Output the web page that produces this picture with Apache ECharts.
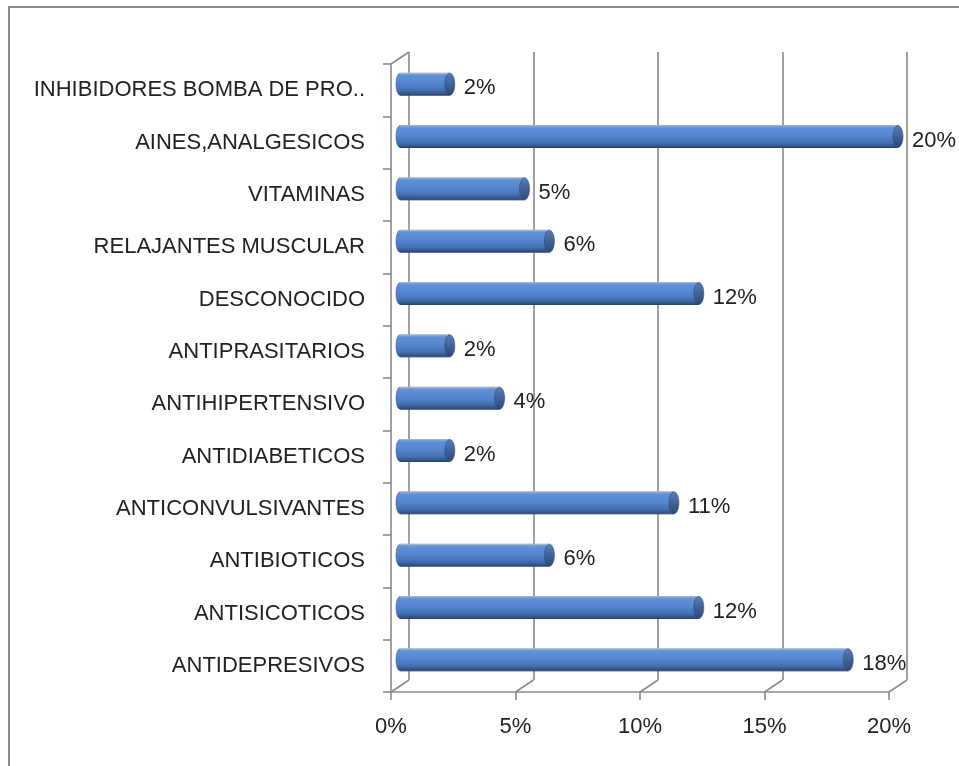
<!DOCTYPE html>
<html>
<head>
<meta charset="utf-8">
<script src="https://cdn.jsdelivr.net/npm/echarts@6/dist/echarts.min.js"></script>
<style>
  html, body { margin: 0; padding: 0; background: #fff; }
  #chart { width: 959px; height: 766px; }
</style>
</head>
<body>
<div id="chart"></div>
<script>
// categorias de arriba hacia abajo
const categories = [
  'INHIBIDORES BOMBA DE PRO..',
  'AINES,ANALGESICOS',
  'VITAMINAS',
  'RELAJANTES MUSCULAR',
  'DESCONOCIDO',
  'ANTIPRASITARIOS',
  'ANTIHIPERTENSIVO',
  'ANTIDIABETICOS',
  'ANTICONVULSIVANTES',
  'ANTIBIOTICOS',
  'ANTISICOTICOS',
  'ANTIDEPRESIVOS'
];
const values = [2, 20, 5, 6, 12, 2, 4, 2, 11, 6, 12, 18];
const valueLabels = ['2%', '20%', '5%', '6%', '12%', '2%', '4%', '2%', '11%', '6%', '12%', '18%'];
const xTicks = [0, 5, 10, 15, 20];

const font = '"Liberation Sans", Arial, sans-serif';
const gray = '#8a8a8a';
// desplazamiento de profundidad (efecto 3D)
const DX = 18, DY = 12;

const chart = echarts.init(document.getElementById('chart'));

const bodyGrad = new echarts.graphic.LinearGradient(0, 0, 0, 1, [
  { offset: 0, color: '#8fa9d0' },
  { offset: 0.12, color: '#5e90d6' },
  { offset: 0.45, color: '#5587d0' },
  { offset: 0.78, color: '#4370b2' },
  { offset: 1, color: '#2a4a78' }
]);
const capGrad = new echarts.graphic.LinearGradient(0, 0, 0, 1, [
  { offset: 0, color: '#5a7fb5' },
  { offset: 0.5, color: '#3f6399' },
  { offset: 1, color: '#2b4873' }
]);

function renderBar(params, api) {
  const v = api.value(0);
  const idx = api.value(1);
  const p0 = api.coord([0, idx]);
  const p1 = api.coord([v, idx]);
  const h = 22;
  const y = p0[1] - h / 2;
  return {
    type: 'group',
    children: [
      { type: 'ellipse', shape: { cx: p0[0], cy: p0[1], rx: 4, ry: h / 2 },
        style: { fill: bodyGrad, stroke: '#3a5e92', lineWidth: 0.6 } },
      { type: 'rect', shape: { x: p0[0], y: y, width: p1[0] - p0[0], height: h },
        style: { fill: bodyGrad } },
      { type: 'line', shape: { x1: p0[0], y1: y, x2: p1[0], y2: y },
        style: { stroke: '#9fb2cc', lineWidth: 1 } },
      { type: 'line', shape: { x1: p0[0], y1: y + h, x2: p1[0], y2: y + h },
        style: { stroke: '#2a4670', lineWidth: 1 } },
      { type: 'ellipse', shape: { cx: p1[0], cy: p1[1], rx: 5, ry: h / 2 },
        style: { fill: capGrad, stroke: '#2f4f80', lineWidth: 0.6 } },
      { type: 'text', style: { text: valueLabels[params.dataIndex], x: p1[0] + 14, y: p1[1] + 4,
        verticalAlign: 'middle', align: 'left', fill: '#222', font: '22px ' + font } }
    ]
  };
}

function renderFloorDiag(params, api) {
  const p = api.coord([api.value(0), 0]);
  const cs = params.coordSys;
  const yb = cs.y + cs.height;
  return { type: 'line', shape: { x1: p[0], y1: yb, x2: p[0] + DX, y2: yb - DY },
    style: { stroke: gray, lineWidth: 1.6 } };
}

function renderWallTop(params, api) {
  const cs = params.coordSys;
  return { type: 'line', shape: { x1: cs.x, y1: cs.y, x2: cs.x + DX, y2: cs.y - DY },
    style: { stroke: gray, lineWidth: 1.6 } };
}

chart.setOption({
  animation: false,
  graphic: [
    { type: 'rect', shape: { x: 9, y: 7, width: 1000, height: 1000 },
      style: { fill: 'none', stroke: gray, lineWidth: 2 }, z: -10 }
  ],
  grid: [
    // frente
    { left: 391, top: 64, width: 498, height: 628 },
    // fondo
    { left: 391 + DX, top: 64 - DY, width: 498, height: 628 },
    // barras (profundidad media)
    { left: 391 + DX / 2, top: 64 - DY / 2, width: 498, height: 628 }
  ],
  xAxis: [
    {
      gridIndex: 0, type: 'value', min: 0, max: 20, interval: 5,
      axisLine: { show: true, lineStyle: { color: gray, width: 1.6 } },
      axisTick: { show: true, length: 8, lineStyle: { color: gray, width: 1.6 } },
      axisLabel: { formatter: '{value}%', margin: 24, color: '#222', fontSize: 22, fontFamily: font },
      splitLine: { show: false }
    },
    {
      gridIndex: 1, type: 'value', min: 0, max: 20, interval: 5,
      axisLine: { show: false }, axisTick: { show: false }, axisLabel: { show: false },
      splitLine: { show: true, lineStyle: { color: gray, width: 1.6 } }
    },
    {
      gridIndex: 2, type: 'value', min: 0, max: 20, interval: 5, show: false
    }
  ],
  yAxis: [
    {
      gridIndex: 0, type: 'category', data: categories, inverse: true,
      axisLine: { show: true, lineStyle: { color: gray, width: 1.6 } },
      axisTick: { show: true, length: 8, lineStyle: { color: gray, width: 1.6 } },
      axisLabel: { margin: 26, color: '#222', fontSize: 22, fontFamily: font, interval: 0 },
      splitLine: { show: false }
    },
    { gridIndex: 1, type: 'category', data: categories, inverse: true, show: false },
    { gridIndex: 2, type: 'category', data: categories, inverse: true, show: false }
  ],
  series: [
    {
      type: 'custom', xAxisIndex: 0, yAxisIndex: 0, silent: true,
      data: xTicks.map(t => [t, 0]), encode: { x: 0, y: 1 },
      renderItem: renderFloorDiag
    },
    {
      type: 'custom', xAxisIndex: 0, yAxisIndex: 0, silent: true,
      data: [[0, 0]], encode: { x: 0, y: 1 },
      renderItem: renderWallTop
    },
    {
      type: 'custom', xAxisIndex: 2, yAxisIndex: 2, silent: true, z: 5,
      data: values.map((v, i) => [v, i]), encode: { x: 0, y: 1 },
      renderItem: renderBar
    }
  ]
});
</script>
</body>
</html>
